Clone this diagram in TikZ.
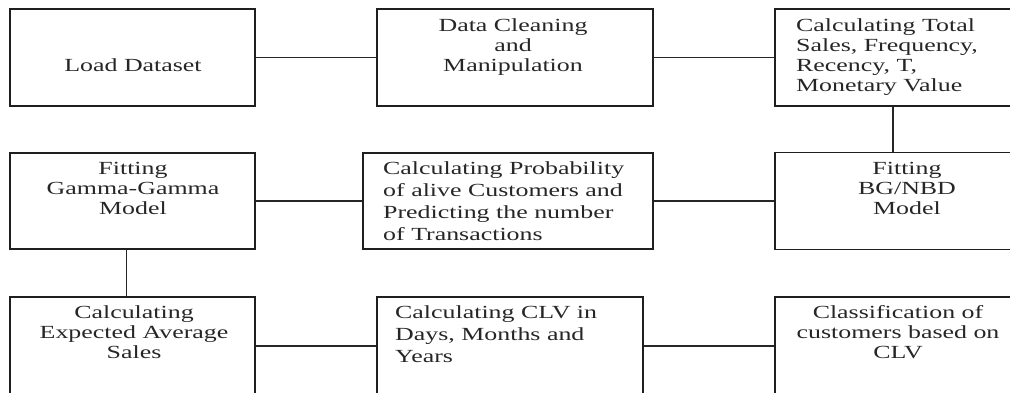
\documentclass[tikz,border=0pt]{standalone}
\usepackage{fontspec}
\setmainfont{Liberation Serif}[FakeStretch=1.4]
\begin{document}
\begin{tikzpicture}[x=1pt,y=-1pt,
  box/.style={draw=black!88,line width=1.6pt,rectangle,inner sep=0pt},
  link/.style={draw=black!85,line width=1.3pt},
  lbl/.style={inner sep=0pt,text=black!85,font={\fontsize{18.5pt}{20pt}\selectfont}},
  lblwide/.style={lbl,font={\fontsize{18.5pt}{22pt}\selectfont}}]
\useasboundingbox (0,0) rectangle (1010,392);
\clip (0,0) rectangle (1010,392);
% boxes
\node[box,minimum width=245pt,minimum height=97pt] (A) at (132.5,57.5) {};
\node[box,minimum width=276pt,minimum height=97pt] (B) at (515,57.5) {};
\node[box,minimum width=236pt,minimum height=97pt] (C) at (893,57.5) {};
\node[box,minimum width=245pt,minimum height=96pt] (D) at (132.5,201) {};
\node[box,minimum width=290pt,minimum height=96pt] (E) at (508,201) {};
\node[box,minimum width=236pt,minimum height=97pt] (F) at (893,201) {};
\node[box,minimum width=245pt,minimum height=98pt] (G) at (132.5,346) {};
\node[box,minimum width=266pt,minimum height=98pt] (H) at (510,346) {};
\node[box,minimum width=236pt,minimum height=98pt] (I) at (893,346) {};
% labels
\node[lbl,anchor=north] (tA) at (133,58.5) {Load Dataset};
\node[lbl,anchor=north,align=center] (tB) at (513,18.5) {Data Cleaning\\and\\Manipulation};
\node[lbl,anchor=north west,align=left] (tC) at (796,18.5) {Calculating Total\\Sales, Frequency,\\Recency, T,\\Monetary Value};
\node[lbl,anchor=north,align=center] (tD) at (133,162.5) {Fitting\\Gamma-Gamma\\Model};
\node[lblwide,anchor=north west,align=left] (tE) at (383,161.5) {Calculating Probability\\of alive Customers and\\Predicting the number\\of Transactions};
\node[lbl,anchor=north,align=center] (tF) at (907,162.5) {Fitting\\BG/NBD\\Model};
\node[lbl,anchor=north,align=center] (tG) at (134,305.5) {Calculating\\Expected Average\\Sales};
\node[lblwide,anchor=north west,align=left] (tH) at (395,305.5) {Calculating CLV in\\Days, Months and\\Years};
\node[lbl,anchor=north,align=center] (tI) at (898,305.5) {Classification of\\customers based on\\CLV};
% connectors
\draw[link] (A.east) -- (B.west);
\draw[link] (B.east) -- (C.west);
\draw[link] (C.south) -- (F.north);
\draw[link] (D.east) -- (E.west);
\draw[link] (E.east) -- (F.west);
\draw[link] ([xshift=-6pt]D.south) -- ([xshift=-6pt]G.north);
\draw[link] (G.east) -- (H.west);
\draw[link] (H.east) -- (I.west);
\end{tikzpicture}
\end{document}
